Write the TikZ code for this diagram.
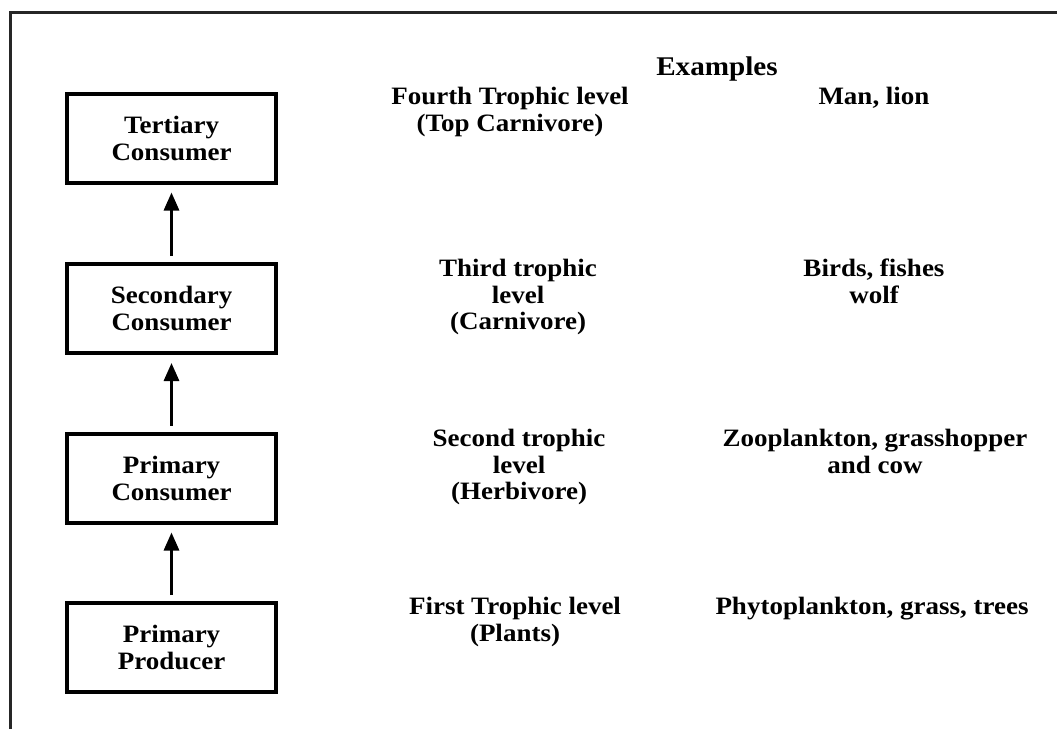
\documentclass[tikz,border=0pt]{standalone}
\usepackage{fontspec}
\setmainfont{Liberation Serif}[FakeStretch=1.08]
\usetikzlibrary{arrows.meta}
\begin{document}
\begin{tikzpicture}[x=1pt,y=-1pt,
  lbl/.style={font=\bfseries\fontsize{25}{26.5}\selectfont, align=center, inner sep=0pt, anchor=north},
  levelbox/.style={draw=black, line width=4pt, minimum width=209pt, minimum height=89pt, inner sep=0pt, align=center, font=\bfseries\fontsize{25}{27}\selectfont},
  flow/.style={line width=3pt, -{Triangle[width=15pt,length=18pt]}, shorten <=6pt, shorten >=8pt},
  frame/.style={line width=3pt, draw=black!85}
]
\useasboundingbox (0,0) rectangle (1057,729);
\coordinate (fa) at (10,729);
\coordinate (fb) at (10,12);
\coordinate (fc) at (1057,12);
\draw[frame] (fa) -- (fb) -- (fc);

\node[levelbox] (tc) at (171.5,138) {Tertiary\\Consumer};
\node[levelbox] (sc) at (171.5,308.5) {Secondary\\Consumer};
\node[levelbox] (pc) at (171.5,478) {Primary\\Consumer};
\node[levelbox] (pp) at (171.5,647.5) {Primary\\Producer};

\draw[flow] (pp) -- (pc);
\draw[flow] (pc) -- (sc);
\draw[flow] (sc) -- (tc);

\node[lbl, font=\bfseries\fontsize{27}{28}\selectfont] (ex) at (717,57) {Examples};

\node[lbl] (l4) at (510,87) {Fourth Trophic level\\(Top Carnivore)};
\node[lbl] (l3) at (518,259) {Third trophic\\level\\(Carnivore)};
\node[lbl] (l2) at (519,429) {Second trophic\\level\\(Herbivore)};
\node[lbl] (l1) at (515,597) {First Trophic level\\(Plants)};

\node[lbl] (e4) at (874,87) {Man, lion};
\node[lbl] (e3) at (874,259) {Birds, fishes\\wolf};
\node[lbl] (e2) at (875,429) {Zooplankton, grasshopper\\and cow};
\node[lbl] (e1) at (872,597) {Phytoplankton, grass, trees};
\end{tikzpicture}
\end{document}
